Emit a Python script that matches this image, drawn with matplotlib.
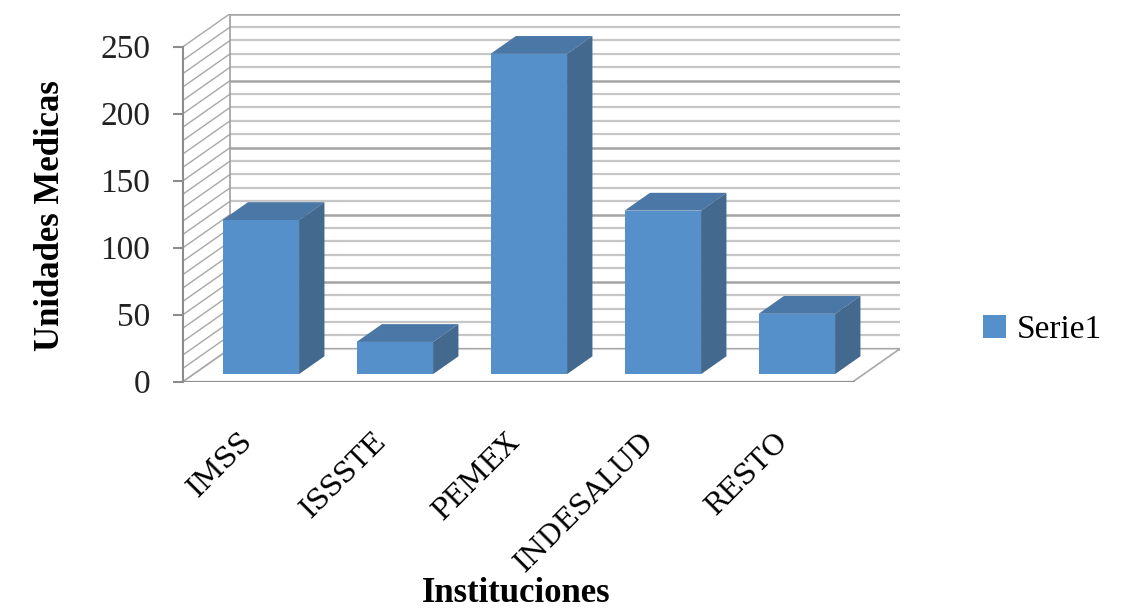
import numpy as np
import matplotlib
matplotlib.use("Agg")
import matplotlib.pyplot as plt
from matplotlib.patches import Polygon, Patch
from matplotlib.transforms import ScaledTranslation

# datos
instituciones = ["IMSS", "ISSSTE", "PEMEX", "INDESALUD", "RESTO"]
unidades = [115, 24, 239, 122, 45]
yticks = [0, 50, 100, 150, 200, 250]
serie = "Serie1"

# colores de las caras
c_frente = "#5690cb"
c_arriba = "#4b77a6"
c_lado = "#43698f"

fig = plt.figure(figsize=(11.22, 6.13), dpi=100)

# profundidad del efecto 3D (en unidades de datos)
dx = 47 / 134
dy = 33 / 1.34
ymax = 250
n = len(instituciones)
ancho = 0.571
f0, f1 = 0.23, 0.77

ax = fig.add_axes([183 / 1122, (613 - 381.7) / 613, 717 / 1122, 368 / 613])
ax.set_xlim(0, n + dx)
ax.set_ylim(0, ymax + dy)
for s in ["top", "right", "bottom"]:
    ax.spines[s].set_visible(False)
ax.spines["left"].set_bounds(0, ymax)
ax.spines["left"].set_color("#8c8c8c")
ax.spines["left"].set_linewidth(1.5)

# paredes: lineas de la pared del fondo y la lateral
for v in range(0, ymax + 1, 10):
    mayor = v % 50 == 0
    ax.plot([dx, n + dx], [v + dy, v + dy],
            color="#a4a4a4" if mayor else "#c6c6c6",
            lw=1.8 if mayor else 1.6, zorder=1, solid_capstyle="butt")
    ax.plot([0, dx], [v, v + dy], color="#a8a8a8", lw=1.0, zorder=1)
ax.plot([dx, dx], [dy, ymax + dy], color="#a0a0a0", lw=1.2, zorder=1)

# piso
piso = Polygon([[0, 0], [n, 0], [n + dx, dy], [dx, dy]], closed=True,
               facecolor="white", edgecolor="#a8a8a8", lw=1.2, zorder=2)
ax.add_patch(piso)
ax.plot([0, n], [0, 0], color="#8c8c8c", lw=2.0, zorder=3)

# barras
x = np.arange(n)
x0 = x + (1 - ancho) / 2 + f0 * dx
y0 = f0 * dy
ddx = (f1 - f0) * dx
ddy = (f1 - f0) * dy
ax.bar(x0, unidades, width=ancho, bottom=y0, align="edge",
       color=c_frente, edgecolor="none", zorder=5, label=serie)
for xi, v in zip(x0, unidades):
    arriba = Polygon([[xi, y0 + v], [xi + ancho, y0 + v],
                      [xi + ancho + ddx, y0 + v + ddy], [xi + ddx, y0 + v + ddy]],
                     closed=True, facecolor=c_arriba, edgecolor="none", zorder=5)
    lado = Polygon([[xi + ancho, y0], [xi + ancho, y0 + v],
                    [xi + ancho + ddx, y0 + v + ddy], [xi + ancho + ddx, y0 + ddy]],
                   closed=True, facecolor=c_lado, edgecolor="none", zorder=5)
    ax.add_patch(arriba)
    ax.add_patch(lado)

# ejes y etiquetas
ax.set_yticks(yticks)
ax.set_yticklabels([str(t) for t in yticks], fontsize=24,
                   family="Liberation Serif", color="#222222")
ax.tick_params(axis="y", direction="out", length=7.2, width=1.5,
               color="#8c8c8c", pad=16.5)

ax.set_xticks(x + 0.5)
ax.set_xticklabels(instituciones, rotation=45, ha="right", va="top",
                   rotation_mode="anchor", fontsize=20.5, family="DejaVu Serif")
ax.tick_params(axis="x", length=0, pad=33)
desplaza = ScaledTranslation(-12 / 100, 0, fig.dpi_scale_trans)
for lab in ax.get_xticklabels():
    lab.set_transform(lab.get_transform() + desplaza)

fig.text(0.0446, 0.648, "Unidades Medicas", rotation=90, ha="center",
         va="center", fontsize=25, fontweight="bold", family="Liberation Serif")
fig.text(516 / 1122, 1 - 594 / 613, "Instituciones", ha="center", va="center",
         fontsize=25, fontweight="bold", family="Liberation Serif")

fig.legend(handles=[Patch(facecolor=c_frente, label=serie)],
           loc="center left", bbox_to_anchor=(983 / 1122, 1 - 330 / 613),
           frameon=False, prop={"family": "Liberation Serif", "size": 24},
           handlelength=0.7, handleheight=0.7, handletextpad=0.3,
           borderpad=0, borderaxespad=0)

fig.savefig("out.png", dpi=100)
